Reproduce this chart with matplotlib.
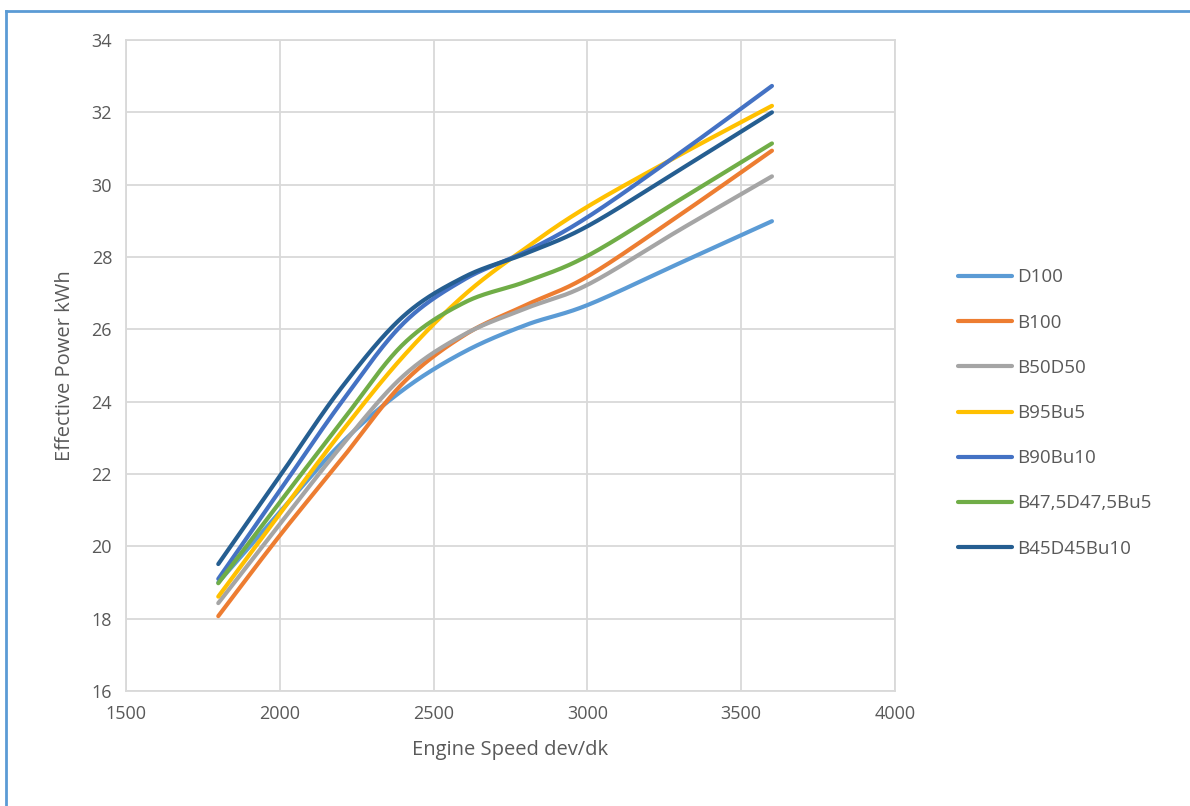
import numpy as np
import matplotlib
matplotlib.use("Agg")
import matplotlib.pyplot as plt
from matplotlib.lines import Line2D

plt.rcParams['font.family'] = ['Open Sans', 'DejaVu Sans']

speed = [1800, 2000, 2200, 2400, 2600, 2800, 3000, 3300, 3600]

series_names = ["D100", "B100", "B50D50", "B95Bu5", "B90Bu10", "B47,5D47,5Bu5", "B45D45Bu10"]
colors = ["#5B9BD5", "#ED7D31", "#A5A5A5", "#FFC000", "#4472C4", "#70AD47", "#255E91"]

d100        = [19.00, 20.95, 22.85, 24.32, 25.38, 26.12, 26.67, 27.83, 28.99]
b100        = [18.07, 20.30, 22.40, 24.51, 25.84, 26.67, 27.46, 29.16, 30.94]
b50d50      = [18.43, 20.61, 22.77, 24.70, 25.86, 26.58, 27.23, 28.75, 30.23]
b95bu5      = [18.61, 20.90, 23.16, 25.24, 26.95, 28.25, 29.39, 30.82, 32.18]
b90bu10     = [19.10, 21.54, 23.98, 26.15, 27.38, 28.15, 29.10, 30.87, 32.73]
b475d475bu5 = [18.98, 21.22, 23.43, 25.58, 26.74, 27.32, 28.03, 29.58, 31.14]
b45d45bu10  = [19.51, 21.94, 24.38, 26.35, 27.45, 28.10, 28.85, 30.41, 32.00]

data = [d100, b100, b50d50, b95bu5, b90bu10, b475d475bu5, b45d45bu10]


def smooth(x, y, n=50):
    """Catmull-Rom style smoothing (like spreadsheet smoothed lines)."""
    x = np.asarray(x, float)
    y = np.asarray(y, float)
    px = np.concatenate([[x[0]], x, [x[-1]]])
    py = np.concatenate([[y[0]], y, [y[-1]]])
    xs, ys = [], []
    for i in range(1, len(px) - 2):
        p0x, p1x, p2x, p3x = px[i - 1:i + 3]
        p0y, p1y, p2y, p3y = py[i - 1:i + 3]
        c1x = p1x + (p2x - p0x) / 6
        c1y = p1y + (p2y - p0y) / 6
        c2x = p2x - (p3x - p1x) / 6
        c2y = p2y - (p3y - p1y) / 6
        t = np.linspace(0, 1, n)
        bx = (1 - t) ** 3 * p1x + 3 * (1 - t) ** 2 * t * c1x + 3 * (1 - t) * t ** 2 * c2x + t ** 3 * p2x
        by = (1 - t) ** 3 * p1y + 3 * (1 - t) ** 2 * t * c1y + 3 * (1 - t) * t ** 2 * c2y + t ** 3 * p2y
        xs.append(bx)
        ys.append(by)
    return np.concatenate(xs), np.concatenate(ys)


fig = plt.figure(figsize=(11.9, 8.06), dpi=100)
ax = fig.add_axes([126 / 1190, 1 - 691 / 806, (895 - 126) / 1190, (691 - 40) / 806])

for name, vals, c in zip(series_names, data, colors):
    sx, sy = smooth(speed, vals)
    ax.plot(sx, sy, color=c, lw=3.0, solid_capstyle='round', label=name)

ax.set_xlim(1500, 4000)
ax.set_ylim(16, 34)
ax.set_xticks(np.arange(1500, 4001, 500))
ax.set_yticks(np.arange(16, 35, 2))
ax.grid(True, color="#D9D9D9", lw=1.3)
ax.set_axisbelow(True)
for s in ax.spines.values():
    s.set_color("#D9D9D9")
    s.set_linewidth(1.3)
ax.tick_params(length=0, labelsize=13, colors="#595959", pad=10)

ax.set_xlabel("Engine Speed dev/dk", fontsize=14.5, color="#595959", labelpad=12)
ax.set_ylabel("Effective Power kWh", fontsize=14.5, color="#595959", labelpad=12)

handles = [Line2D([0], [0], color=c, lw=3, solid_capstyle='round') for c in colors]
leg = fig.legend(handles, series_names, loc='upper left', bbox_to_anchor=(950 / 1190, 1 - 261 / 806),
                 frameon=False, fontsize=13.5, handlelength=2.9, handletextpad=0.3,
                 labelspacing=1.45, borderaxespad=0)
for t in leg.get_texts():
    t.set_color("#595959")

# outer chart border (top and left visible)
fig.add_artist(Line2D([5.5 / 1190, 5.5 / 1190], [0, 1 - 11 / 806], color="#5B9BD5", lw=2,
                      transform=fig.transFigure))
fig.add_artist(Line2D([5.5 / 1190, 1], [1 - 11 / 806, 1 - 11 / 806], color="#5B9BD5", lw=2,
                      transform=fig.transFigure))

fig.savefig("out.png", dpi=100, facecolor="white")
